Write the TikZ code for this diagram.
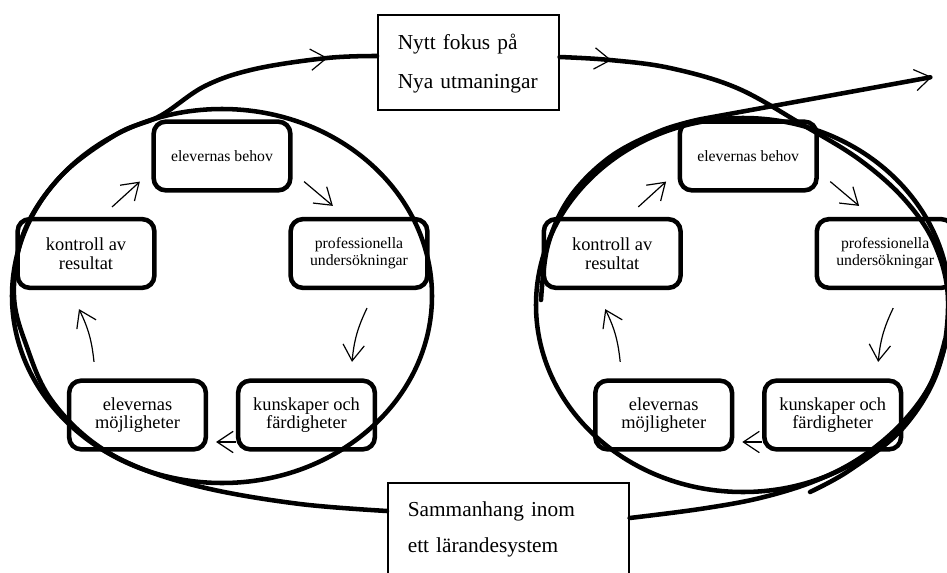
\documentclass[tikz,border=0pt]{standalone}
\usepackage{fontspec}
\setmainfont{Liberation Serif}
\usetikzlibrary{arrows.meta,positioning,decorations.markings}
\tikzset{
    %Define standard arrow tip
    >={Straight Barb[length=12pt,width=16pt,line width=0.9pt]},
    %Define style for cycle boxes
    stage/.style={
           rectangle,
           rounded corners=9pt,
           draw=black, line width=3.4pt,
           minimum width=102.5pt,
           minimum height=51.5pt,
           inner sep=1pt,
           align=center},
    bigtext/.style={font=\fontsize{13.8}{14}\selectfont},
    smalltext/.style={font=\fontsize{11.8}{12.8}\selectfont},
    % Define style for theme boxes
    theme/.style={
           rectangle,
           draw=black, line width=1.2pt,
           anchor=north west,
           inner xsep=15pt,
           inner ysep=14.5pt,
           align=left},
    % Define arrow styles
    flow/.style={
           ->,
           line width=0.9pt},
    ring/.style={
           line width=3.4pt},
    spiral/.style={
           line width=3.4pt,
           line cap=round,
           line join=round},
}

\begin{document}
\begin{tikzpicture}[x=0.75pt, y=-0.75pt, node distance=288.75pt]
 \useasboundingbox (0,0) rectangle (947,572);
 %theme boxes
 \node[theme, text width=105.75pt, text depth=31pt, font=\fontsize{16}{29}\selectfont] (fokus) at (377,14) {Nytt fokus på\\Nya utmaningar};
 \node[theme, text width=150.75pt, text depth=70pt, font=\fontsize{16}{27}\selectfont] (system) at (387,482) {Sammanhang inom\\ett lärandesystem};
 %left cycle
 \node[stage, smalltext] (lbehov) at (222,156) {elevernas behov};
 \node[stage, bigtext] (lkontroll) at (86,253.5) {kontroll av\\resultat};
 \node[stage, smalltext] (lunders) at (359,253.5) {professionella\\undersökningar};
 \node[stage, bigtext] (lmojl) at (137.5,415) {elevernas\\möjligheter};
 \node[stage, bigtext] (lkunsk) at (306.5,415) {kunskaper och\\färdigheter};
 %right cycle
 \node[stage, smalltext, right=of lbehov] (rbehov) {elevernas behov};
 \node[stage, bigtext, right=of lkontroll] (rkontroll) {kontroll av\\resultat};
 \node[stage, smalltext, right=of lunders] (runders) {professionella\\undersökningar};
 \node[stage, bigtext, right=of lmojl] (rmojl) {elevernas\\möjligheter};
 \node[stage, bigtext, right=of lkunsk] (rkunsk) {kunskaper och\\färdigheter};
 %rings
 \draw[ring] (222,296) ellipse [x radius=157.5pt, y radius=140.25pt];
 \draw[ring] (743,305) ellipse [x radius=155.25pt, y radius=140.25pt];
 %spiral
 \coordinate (rstart) at (541,300);
 \coordinate (exit) at (932,77);
 \draw[spiral, postaction={decorate, decoration={markings, mark=at position -37pt with {\arrow{>}}}}]
   plot[smooth, tension=0.6] coordinates {(system.west |- 0,511) (300,504) (210,489) (140,468) (90,440) (50,398) (28,350) (14,296) (24,232) (61,176) (117,134) (160,116) (205,86) (255,69) (327,58) (fokus.west |- 0,56)};
 \draw[spiral, postaction={decorate, decoration={markings, mark=at position 39pt with {\arrow{>}}}}]
   plot[smooth, tension=0.6] coordinates {(fokus.east |- 0,57) (610,60) (670,68) (737,88) (803,125) (860,160) (905,200) (935,245) (948,300) (938,370) (903,428) (850,470) (810,492)};
 \draw[spiral]
   plot[smooth, tension=0.6] coordinates {(system.east |- 0,518) (700,509) (760,498) (815,481) (860,458) (900,425) (930,385) (945,340)};
 \draw[spiral, ->]
   plot[smooth, tension=0.6] coordinates {(rstart) (548,245) (570,197) (610,157) (660,131) (700,119.3)} -- (exit);
 %left edges
 \draw[flow] ([shift={(-44.5,-10)}]lkontroll.north east) -- ([shift={(-11.5,-11)}]lbehov.south west);
 \draw[flow] ([shift={(11.5,-11)}]lbehov.south east) -- ([shift={(44.5,-11)}]lunders.north west);
 \draw[flow] ([shift={(8,18)}]lunders.south) to[bend right=10] ([shift={(45.5,-16.5)}]lkunsk.north);
 \draw[flow] ([shift={(0,27)}]lkunsk.west) -- ([shift={(8,27)}]lmojl.east);
 \draw[flow] ([shift={(-43.5,-16.5)}]lmojl.north) to[bend right=10] ([shift={(-7,19)}]lkontroll.south);
 %right edges
 \draw[flow] ([shift={(-44.5,-10)}]rkontroll.north east) -- ([shift={(-11.5,-11)}]rbehov.south west);
 \draw[flow] ([shift={(11.5,-11)}]rbehov.south east) -- ([shift={(44.5,-11)}]runders.north west);
 \draw[flow] ([shift={(8,18)}]runders.south) to[bend right=10] ([shift={(45.5,-16.5)}]rkunsk.north);
 \draw[flow] ([shift={(0,27)}]rkunsk.west) -- ([shift={(8,27)}]rmojl.east);
 \draw[flow] ([shift={(-43.5,-16.5)}]rmojl.north) to[bend right=10] ([shift={(-7,19)}]rkontroll.south);
\end{tikzpicture}
\end{document}
